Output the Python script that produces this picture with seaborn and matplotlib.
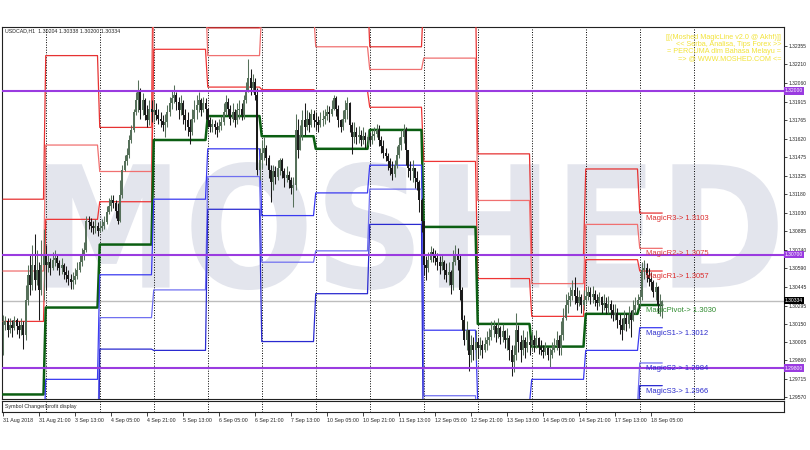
import numpy as np
import pandas as pd
import seaborn as sns
import matplotlib
matplotlib.use('Agg')
import matplotlib.pyplot as plt
from matplotlib.textpath import TextPath
from matplotlib.patches import PathPatch
from matplotlib.font_manager import FontProperties
from matplotlib.transforms import Affine2D

SYMBOL_INFO = 'USDCAD,H1  1.30204 1.30338 1.30200 1.30334'
LAST_PRICE = 1.30334

day_names = ['31 Aug', '3 Sep', '4 Sep', '5 Sep', '6 Sep', '7 Sep', '10 Sep',
             '11 Sep', '12 Sep', '13 Sep', '14 Sep', '17 Sep', '18 Sep']
bars_per_day = [19, 24, 24, 24, 24, 24, 24, 24, 24, 24, 24, 24, 11]

# hourly candles, in pips above 1.2900
close_pips = [
    114, 117, 110, 114, 112, 118, 113, 110, 114, 106, 134, 154, 146, 162, 150, 158, 142, 162, 170,
    162, 164, 159, 166, 167, 163, 159, 162, 156, 154, 151, 148, 150, 153, 158, 164, 170, 174, 197, 196, 193, 191, 193, 189,
    191, 193, 196, 204, 209, 213, 211, 205, 197, 217, 237, 244, 249, 261, 269, 283, 293, 299, 285, 293, 281, 277, 286, 283,
    285, 281, 278, 276, 273, 275, 283, 290, 294, 297, 291, 285, 290, 281, 277, 271, 267, 278, 285, 289, 293, 285, 290, 286,
    277, 271, 274, 271, 269, 272, 275, 283, 291, 286, 278, 283, 277, 285, 286, 281, 293, 301, 310, 302, 307, 297, 237, 245,
    251, 255, 247, 237, 228, 236, 232, 239, 245, 236, 231, 233, 229, 223, 225, 269, 253, 265, 277, 271, 278, 273, 282, 277,
    275, 273, 277, 278, 280, 283, 282, 286, 294, 286, 277, 271, 278, 285, 290, 273, 263, 267, 263, 265, 261, 264, 261, 263,
    261, 264, 266, 269, 261, 256, 251, 248, 244, 239, 234, 241, 249, 257, 263, 269, 253, 239, 236, 239, 231, 228, 213, 197,
    162, 159, 166, 172, 170, 167, 164, 161, 164, 158, 154, 156, 146, 164, 170, 166, 142, 118, 102, 110, 90, 98, 94, 101,
    96, 98, 94, 99, 102, 105, 110, 113, 107, 112, 105, 109, 102, 104, 94, 85, 90, 110, 101, 94, 102, 96, 101, 98,
    102, 98, 104, 97, 94, 93, 96, 90, 90, 94, 98, 102, 96, 106, 120, 130, 134, 137, 142, 137, 132, 136, 130, 134,
    137, 140, 136, 139, 134, 132, 136, 130, 132, 128, 131, 126, 122, 124, 118, 114, 110, 120, 115, 122, 118, 126, 130, 134,
    136, 158, 159, 154, 151, 148, 140, 144, 130, 130, 133,
]
high_pips = [
    122, 121, 120, 120, 118, 121, 120, 117, 120, 117, 146, 162, 170, 178, 186, 174, 164, 182, 190,
    178, 170, 167, 172, 174, 170, 166, 167, 163, 161, 158, 155, 156, 159, 164, 170, 175, 180, 201, 201, 199, 197, 198, 196,
    197, 198, 201, 209, 215, 217, 217, 213, 211, 229, 241, 249, 255, 265, 273, 286, 299, 309, 302, 298, 294, 289, 293, 293,
    293, 290, 286, 283, 281, 282, 289, 295, 301, 305, 299, 295, 297, 293, 286, 283, 278, 286, 293, 297, 299, 294, 295, 294,
    285, 279, 278, 277, 275, 278, 280, 290, 297, 294, 289, 290, 286, 290, 293, 290, 297, 307, 325, 317, 313, 310, 302, 255,
    261, 263, 257, 249, 241, 241, 240, 245, 247, 247, 239, 240, 236, 232, 232, 282, 278, 273, 285, 290, 285, 283, 286, 285,
    283, 280, 283, 285, 286, 289, 288, 293, 297, 296, 289, 278, 285, 293, 295, 291, 275, 275, 271, 272, 269, 271, 267, 269,
    267, 269, 271, 274, 273, 264, 261, 255, 251, 247, 244, 245, 256, 263, 269, 274, 271, 253, 244, 245, 239, 236, 229, 215,
    193, 169, 172, 177, 175, 174, 171, 169, 170, 166, 163, 164, 158, 174, 178, 175, 170, 144, 122, 117, 110, 106, 105, 110,
    104, 105, 102, 105, 109, 112, 117, 118, 115, 120, 113, 115, 110, 112, 106, 98, 98, 124, 114, 106, 110, 105, 109, 106,
    109, 106, 110, 105, 102, 98, 101, 97, 96, 101, 104, 109, 106, 117, 128, 139, 140, 144, 150, 152, 144, 142, 139, 142,
    144, 145, 144, 145, 142, 139, 140, 137, 139, 136, 137, 134, 131, 131, 128, 123, 120, 126, 124, 129, 126, 134, 136, 139,
    142, 164, 166, 163, 159, 156, 150, 148, 145, 139, 134,
]
low_pips = [
    90, 110, 105, 108, 105, 110, 107, 104, 106, 95, 102, 130, 138, 142, 142, 146, 118, 138, 134,
    142, 156, 154, 158, 161, 158, 154, 155, 151, 148, 146, 143, 143, 147, 151, 156, 161, 166, 172, 190, 188, 186, 187, 185,
    188, 189, 190, 194, 202, 205, 207, 199, 194, 196, 215, 236, 241, 247, 259, 267, 281, 283, 278, 281, 277, 271, 273, 275,
    275, 277, 274, 271, 268, 263, 271, 280, 286, 290, 285, 278, 281, 274, 269, 264, 258, 265, 275, 278, 283, 280, 283, 278,
    271, 267, 267, 266, 263, 267, 269, 273, 281, 281, 273, 275, 271, 274, 278, 277, 278, 290, 299, 297, 299, 293, 233, 229,
    239, 245, 241, 231, 212, 221, 226, 229, 233, 231, 224, 228, 223, 218, 208, 221, 247, 253, 261, 265, 269, 267, 271, 271,
    269, 267, 271, 272, 274, 277, 275, 280, 285, 280, 271, 267, 269, 275, 278, 267, 250, 259, 258, 259, 256, 258, 255, 257,
    256, 258, 261, 263, 256, 251, 247, 244, 237, 233, 229, 232, 239, 247, 253, 259, 241, 232, 229, 228, 223, 221, 204, 188,
    154, 150, 156, 164, 164, 162, 158, 155, 158, 151, 148, 146, 139, 142, 162, 158, 134, 110, 98, 94, 78, 85, 86, 86,
    88, 90, 88, 93, 94, 98, 102, 105, 101, 104, 99, 101, 96, 94, 86, 74, 77, 86, 93, 85, 90, 88, 93, 90,
    94, 93, 96, 91, 90, 88, 90, 86, 81, 88, 93, 94, 90, 90, 102, 118, 124, 129, 134, 131, 126, 129, 124, 126,
    131, 134, 131, 132, 129, 126, 129, 124, 126, 123, 124, 120, 117, 118, 112, 107, 102, 110, 109, 112, 105, 117, 123, 128,
    130, 134, 151, 148, 145, 142, 136, 134, 124, 121, 120,
]

# daily MagicLine levels (one value per day)
r3 = [1.3114, 1.3228, 1.3171, 1.3352, 1.3250, 1.3301, 1.3281, 1.3235, 1.3278, 1.3150, 1.3070, 1.3138, 1.3103]
r2 = [1.3057, 1.3157, 1.3136, 1.3280, 1.3228, 1.3264, 1.3235, 1.3217, 1.3226, 1.3113, 1.3047, 1.3094, 1.3075]
r1 = [1.3017, 1.3098, 1.3112, 1.3233, 1.3203, 1.3201, 1.3200, 1.3187, 1.3144, 1.3051, 1.3021, 1.3066, 1.3057]
pivot = [1.2959, 1.3028, 1.3078, 1.3161, 1.3180, 1.3164, 1.3154, 1.3169, 1.3092, 1.3015, 1.2997, 1.3023, 1.3030]
s1 = [1.2918, 1.2971, 1.3054, 1.3114, 1.3154, 1.3101, 1.3119, 1.3141, 1.3010, 1.2952, 1.2971, 1.2994, 1.3012]
s2 = [1.2860, 1.2901, 1.3020, 1.3042, 1.3132, 1.3064, 1.3073, 1.3122, 1.2958, 1.2917, 1.2947, 1.2951, 1.2984]
s3 = [1.2820, 1.2843, 1.2995, 1.2994, 1.3106, 1.3001, 1.3039, 1.3094, 1.2876, 1.2854, 1.2921, 1.2923, 1.2966]

purple_levels = [1.32000, 1.30700, 1.29800]

price_ticks = [1.32355, 1.32210, 1.32060, 1.31915, 1.31765, 1.31620, 1.31475, 1.31325, 1.31180, 1.31030,
               1.30885, 1.30740, 1.30590, 1.30445, 1.30295, 1.30150, 1.30005, 1.29860, 1.29715, 1.29570]
time_labels = ['31 Aug 2018', '31 Aug 21:00', '3 Sep 13:00', '4 Sep 05:00', '4 Sep 21:00', '5 Sep 13:00',
               '6 Sep 05:00', '6 Sep 21:00', '7 Sep 13:00', '10 Sep 05:00', '10 Sep 21:00', '11 Sep 13:00',
               '12 Sep 05:00', '12 Sep 21:00', '13 Sep 13:00', '14 Sep 05:00', '14 Sep 21:00', '17 Sep 13:00',
               '18 Sep 05:00']
banner_lines = ['[[(Moshed MagicLine v2.0 @ Akhf)]]', '<< Serba, Analisa, Tips Forex >>',
                '= PERCUMA dlm Bahasa Melayu =', '=> @ WWW.MOSHED.COM <=']

sns.set_style('white')
plt.rcParams['font.family'] = ['Liberation Sans', 'DejaVu Sans']

W, H = 810, 450
fig = plt.figure(figsize=(W / 100, H / 100), dpi=100)


def px_axes(x0, y0, x1, y1):
    return fig.add_axes([x0 / W, 1 - y1 / H, (x1 - x0) / W, (y1 - y0) / H])


ax = px_axes(2, 27, 784, 399)
sub = px_axes(2, 401, 784, 412)

to_price = lambda p: 1.29 + np.asarray(p, dtype=float) / 1e4
close = to_price(close_pips)
high = to_price(high_pips)
low = to_price(low_pips)
opn = np.r_[close[0], close[:-1]]
n = len(close)
bars = np.arange(n)
xlim = (-1 / 2.25, 782 / 2.25 - 1 / 2.25)
for a in (ax, sub):
    a.set_xlim(*xlim)
    for s in a.spines.values():
        s.set_color('#222222')
        s.set_linewidth(0.8)
ax.set_ylim(1.29554, 1.32507)

# watermark
fp = FontProperties(family='DejaVu Sans', weight='bold')
tp = TextPath((0, 0), 'MOSHED', size=100, prop=fp)
ext = tp.get_extents()
tx0, tx1, ty0, ty1 = 0.055, 0.992, 0.293, 0.637
tr = (Affine2D().translate(-ext.x0, -ext.y0)
      .scale((tx1 - tx0) / ext.width, (ty1 - ty0) / ext.height)
      .translate(tx0, ty0)) + ax.transAxes
ax.add_patch(PathPatch(tp, transform=tr, fc='#e3e5ed', ec='none', zorder=0))

# day separators
starts = np.cumsum([0] + bars_per_day[:-1])
seps = list(starts[1:]) + [starts[-1] + 24]
for a in (ax, sub):
    for s in seps:
        a.axvline(s, color='black', lw=0.7, ls=(0, (1, 1.6)), zorder=1)

ax.axhline(LAST_PRICE, color='#bdbdbd', lw=1, zorder=2)

# pivot lines
levels = [('R3', r3, '#e63232', 0.9), ('R2', r2, '#f07070', 0.9), ('R1', r1, '#ee3535', 0.9),
          ('Pivot', pivot, '#0b5e12', 1.8),
          ('S1', s1, '#3a3af0', 0.9), ('S2', s2, '#7070f0', 0.9), ('S3', s3, '#2a2ad0', 0.9)]
for name, vals, col, lw in levels:
    sns.lineplot(x=bars, y=np.repeat(vals, bars_per_day), ax=ax, color=col, lw=lw,
                 estimator=None, legend=False, zorder=3)

# candles
up = close >= opn
cols = np.where(up, '#56705a', '#1a1a1a')
ax.vlines(bars, low, high, colors=cols, lw=0.75, zorder=4)
ax.bar(bars, np.maximum(np.abs(close - opn), 0.00004), bottom=np.minimum(opn, close),
       width=0.75, color=cols, linewidth=0, zorder=5)

for v in purple_levels:
    ax.axhline(v, color='#9a3be0', lw=1.5, zorder=6)

# level labels on the last day
label_cols = {'R3': '#dc2b2b', 'R2': '#dc3b3b', 'R1': '#dc2b2b', 'Pivot': '#2e8b2e',
              'S1': '#2b2bcc', 'S2': '#2b2bcc', 'S3': '#2b2bcc'}
lx = (646 - 3) / 2.25
for name, vals, col, lw in levels:
    ax.text(lx, vals[-1] - 0.00015, f'Magic{name}-> {vals[-1]:.4f}', fontsize=5.5,
            color=label_cols[name], ha='left', va='top', zorder=7)

ax.text(3 / 782, (399 - 31) / 372, SYMBOL_INFO, transform=ax.transAxes, fontsize=3.8,
        va='center', ha='left', zorder=7)
for k, line in enumerate(banner_lines):
    ax.text(779 / 782, (399 - 37.7 - 6.9 * k) / 372, line, transform=ax.transAxes,
            fontsize=5.2, color='#f2e33a', ha='right', va='center', zorder=7)

# price scale
ax.yaxis.tick_right()
ax.set_yticks(price_ticks)
ax.set_yticklabels([f'{v:.5f}' for v in price_ticks])
ax.tick_params(axis='y', right=True, length=2.5, width=0.6, pad=1, labelsize=3.6)
ax.set_xticks([])
ax.set_ylabel('')
ax.set_xlabel('')
ytr = ax.get_yaxis_transform()
for v in purple_levels:
    ax.text(1.001, v, f'{v:.5f}', transform=ytr, fontsize=3.6, color='white', ha='left', va='center',
            bbox=dict(boxstyle='square,pad=0.25', fc='#9a3be0', ec='none'), clip_on=False, zorder=8)
ax.text(1.001, LAST_PRICE, f'{LAST_PRICE:.5f}', transform=ytr, fontsize=3.6, color='white', ha='left',
        va='center', bbox=dict(boxstyle='square,pad=0.25', fc='black', ec='none'), clip_on=False, zorder=8)

# sub window and time scale
sub.set_ylim(0, 1)
sub.set_yticks([])
sub.text(3 / 782, 0.5, 'Symbol Changer/profit display', transform=sub.transAxes, fontsize=3.8,
         va='center', ha='left')
sub.set_xticks(np.arange(0, n, 16)[:len(time_labels)])
sub.set_xticklabels(time_labels, ha='left')
sub.tick_params(axis='x', bottom=True, length=3, width=0.6, pad=1.5, labelsize=3.8)

fig.savefig('out.png', dpi=100, facecolor='white')
